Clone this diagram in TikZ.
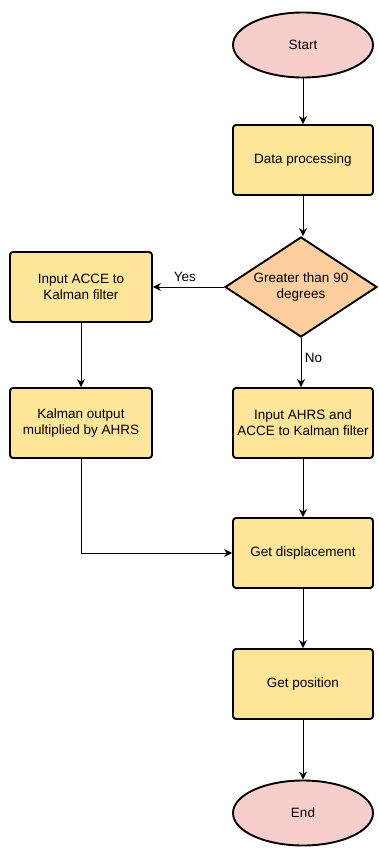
\documentclass[tikz,border=0pt]{standalone}
\usepackage{fontspec}
\setmainfont{Liberation Sans}
\usetikzlibrary{shapes.geometric,arrows.meta}
\definecolor{boxfill}{HTML}{FFE599}
\definecolor{endfill}{HTML}{F8CECC}
\definecolor{decfill}{HTML}{FFCE9F}
\tikzset{
  x=1pt,y=-1pt,
  every node/.style={font=\fontsize{13.5}{16}\selectfont},
  procbox/.style={draw, line width=1.9pt, rounded corners=3pt, fill=boxfill, minimum width=140pt, minimum height=70pt, align=center, inner sep=1pt},
  termin/.style={draw, line width=1.9pt, ellipse, fill=endfill, minimum width=140pt, minimum height=65pt},
  decis/.style={draw, line width=1.9pt, diamond, aspect=1.52, fill=decfill, minimum width=152pt, minimum height=100pt, align=center, inner sep=0pt},
  conn/.style={draw, line width=1pt, -{Stealth[length=8pt,width=8pt]}},
  lbl/.style={font=\fontsize{13.5}{16}\selectfont}
}
\begin{document}
\begin{tikzpicture}
\useasboundingbox (0,0) rectangle (378,848);
\node[termin] (start) at (303,45) {Start};
\node[procbox] (proc) at (303,160) {Data processing};
\node[decis] (dec) at (301,287) {Greater than 90\\degrees};
\node[procbox, minimum width=142pt] (acce) at (81,287) {Input ACCE to\\Kalman filter};
\node[procbox, minimum width=142pt] (kout) at (81,423) {Kalman output\\multiplied by AHRS};
\node[procbox] (ahrs) at (303,423) {Input AHRS and\\ACCE to Kalman filter};
\node[procbox] (disp) at (303,553) {Get displacement};
\node[procbox] (pos) at (303,684) {Get position};
\node[termin] (end) at (303,813) {End};
\draw[conn] (start) -- (proc);
\draw[conn] (proc.south) -- (proc.south |- dec.north);
\draw[conn] (dec.west) -- node[lbl, above, pos=0.55, yshift=2pt] {Yes} (acce.east);
\draw[conn] (dec.south) -- node[lbl, right, pos=0.4] {No} (dec.south |- ahrs.north);
\draw[conn] (acce) -- (kout);
\draw[conn] (ahrs.south) -- (ahrs.south |- disp.north);
\draw[conn] (kout.south) |- (disp.west);
\draw[conn] (disp) -- (pos);
\draw[conn] (pos) -- (end);
\end{tikzpicture}
\end{document}
